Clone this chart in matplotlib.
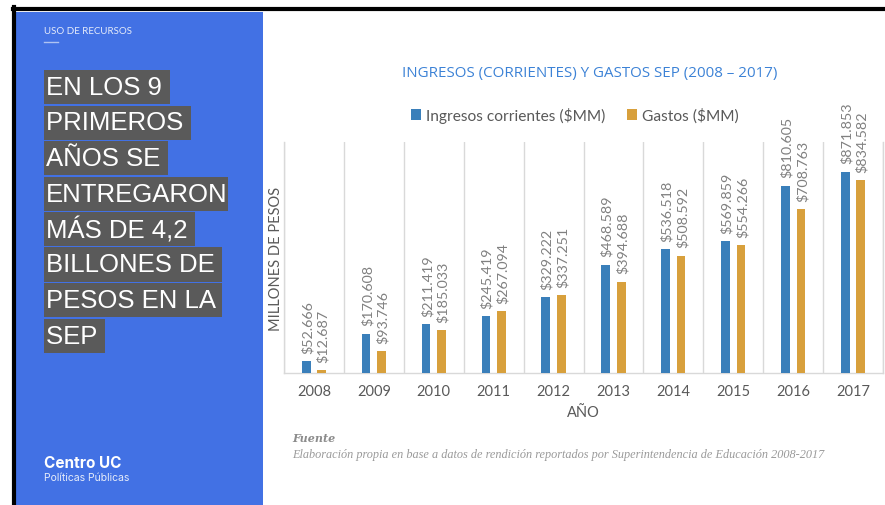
import matplotlib
matplotlib.use("Agg")
import matplotlib.pyplot as plt
import numpy as np
from matplotlib.patches import Patch, Rectangle
from matplotlib.lines import Line2D

years = ["2008", "2009", "2010", "2011", "2012", "2013", "2014", "2015", "2016", "2017"]
ingresos = [52666, 170608, 211419, 245419, 329222, 468589, 536518, 569859, 810605, 871853]
gastos = [12687, 93746, 185033, 267094, 337251, 394688, 508592, 554266, 708763, 834582]
series_names = ["Ingresos corrientes ($MM)", "Gastos ($MM)"]
title = "INGRESOS (CORRIENTES) Y GASTOS SEP (2008 – 2017)"
headline = ["EN LOS 9 ", "PRIMEROS ", "AÑOS SE ", "ENTREGARON", "MÁS DE 4,2 ", "BILLONES DE ", "PESOS EN LA ", "SEP "]

BLUE = "#3A7FBA"
ORANGE = "#D8A03C"
PANEL = "#4271E4"
GRID = "#D9D9D9"
TXT = "#595959"
LBL = "#808080"

W, H = 885, 506
fig = plt.figure(figsize=(W / 100, H / 100), dpi=100)
fig.patch.set_facecolor("white")

def fx(px):
    return px / W

def fy(py):
    return 1 - py / H

# Frame lines (black) top and left
fig.add_artist(Line2D([fx(13), 1.0], [fy(9.5), fy(9.5)], color="black", lw=3, transform=fig.transFigure))
fig.add_artist(Line2D([fx(13.5), fx(13.5)], [fy(8), 0], color="black", lw=3, transform=fig.transFigure))

# Left blue panel
fig.add_artist(Rectangle((fx(15), 0), fx(263) - fx(15), fy(13), transform=fig.transFigure,
                         facecolor=PANEL, edgecolor="none"))
fig.text(fx(44), fy(31), "USO DE RECURSOS", color="#E6ECFA", fontsize=7,
         family="Lato", va="center", ha="left")
fig.add_artist(Line2D([fx(44), fx(58)], [fy(42.5), fy(42.5)], color="#AFC3F2", lw=1,
                      transform=fig.transFigure))

renderer = fig.canvas.get_renderer()
line_h = 35.5
for i, ln in enumerate(headline):
    yc = 88 + i * line_h
    t = fig.text(fx(45.5), fy(yc), ln, color="white", fontsize=18.5, family="Liberation Sans",
                 va="center", ha="left", zorder=5)
    ext = t.get_window_extent(renderer=renderer)
    x1 = ext.x1 + 1
    fig.add_artist(Rectangle((fx(44), fy(yc + 17)), fx(x1) - fx(44), fy(yc - 17) - fy(yc + 17),
                             transform=fig.transFigure, facecolor="#5A5A5A", edgecolor="none",
                             zorder=4))

fig.text(fx(44), fy(464), "Centro UC", color="white", fontsize=11, fontweight="bold",
         family="Inter", va="center", ha="left")
fig.text(fx(44), fy(478), "Políticas Públicas", color="#E6ECFA", fontsize=7.5,
         family="Inter", va="center", ha="left")

# Chart axes
ax = fig.add_axes([fx(284), fy(374), fx(883) - fx(284), fy(143) - fy(374)])
x = np.arange(len(years))
off = 0.13
bw = 0.145
b1 = ax.bar(x - off, ingresos, width=bw, color=BLUE, label=series_names[0], zorder=3)
b2 = ax.bar(x + off, gastos, width=bw, color=ORANGE, label=series_names[1], zorder=3)
ax.set_xlim(-0.5, len(years) - 0.5)
ax.set_ylim(0, 1000000)

def fmt(v):
    return "$" + f"{v:,}".replace(",", ".")

for bars, vals in ((b1, ingresos), (b2, gastos)):
    for r, v in zip(bars, vals):
        ax.annotate(fmt(v), (r.get_x() + r.get_width() / 2 + 0.02, v), xytext=(0, 6),
                    textcoords="offset points", rotation=90, ha="center", va="bottom",
                    fontsize=10.3, color=LBL, family="Lato", annotation_clip=False)

ax.set_xticks(x)
ax.set_xticklabels(years, family="Lato", fontsize=10.5, color=TXT)
ax.set_xticks(np.arange(-0.5, len(years), 1), minor=True)
ax.tick_params(axis="x", which="both", length=0, pad=8)
ax.set_yticks([])
ax.grid(which="minor", axis="x", color=GRID, lw=1, zorder=0)
ax.grid(which="major", visible=False)
for s in ("top",):
    ax.spines[s].set_visible(False)
for s in ("left", "right", "bottom"):
    ax.spines[s].set_color(GRID)
    ax.spines[s].set_linewidth(1)
ax.set_xlabel("AÑO", family="Lato", fontsize=10.5, color=TXT, labelpad=5)
ax.set_ylabel("MILLONES DE PESOS", family="Lato", fontsize=10.5, color=TXT, labelpad=1)

fig.text(fx(590), fy(73), title, color="#3C82D6", fontsize=10.9, family="Open Sans",
         ha="center", va="center")

handles = [Patch(facecolor=BLUE, edgecolor="none"), Patch(facecolor=ORANGE, edgecolor="none")]
fig.legend(handles, series_names, loc="center", bbox_to_anchor=(fx(575), fy(116)), ncol=2,
           frameon=False, prop={"family": "Lato", "size": 11.2}, labelcolor=TXT,
           handlelength=0.65, handleheight=0.65, handletextpad=0.3, columnspacing=1.4)

fig.text(fx(292), fy(439), "Fuente", color="#8C8C8C", fontsize=8, family="DejaVu Serif",
         style="italic", fontweight="bold", ha="left", va="center")
fig.text(fx(292), fy(455), "Elaboración propia en base a datos de rendición reportados por "
         "Superintendencia de Educación 2008-2017", color="#9A9A9A", fontsize=8.8,
         family="Liberation Serif", style="italic", ha="left", va="center")

fig.savefig("out.png", dpi=100)
